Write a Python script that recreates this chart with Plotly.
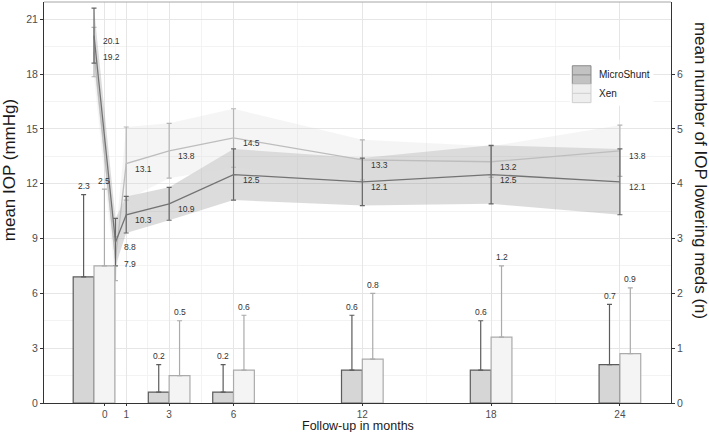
import plotly.graph_objects as go

# ---------------- data ----------------
iop_months = [-0.5, 0.5, 1, 3, 6, 12, 18, 24]
ms_iop = [20.1, 8.8, 10.3, 10.9, 12.5, 12.1, 12.5, 12.1]
ms_iop_sd = [1.5, 1.3, 1.0, 0.9, 1.4, 1.3, 1.6, 1.8]
xen_iop = [19.2, 7.9, 13.1, 13.8, 14.5, 13.3, 13.2, 13.8]
xen_iop_sd = [1.35, 1.2, 2.0, 1.5, 1.6, 1.1, 0.85, 1.4]

med_months = [-0.5, 3, 6, 12, 18, 24]
ms_meds = [2.3, 0.2, 0.2, 0.6, 0.6, 0.7]
ms_meds_sd = [1.5, 0.5, 0.5, 1.0, 0.9, 1.1]
xen_meds = [2.5, 0.5, 0.6, 0.8, 1.2, 0.9]
xen_meds_sd = [1.4, 1.0, 1.0, 1.2, 1.3, 1.2]

x_ticks = [0, 1, 3, 6, 12, 18, 24]
x_minor = [0.5, 2, 4.5, 9, 15, 21]
y_ticks = [0, 3, 6, 9, 12, 15, 18, 21]
y2_ticks = [0, 1, 2, 3, 4, 5, 6]
series_names = ["MicroShunt", "Xen"]

# ---------------- style ----------------
FONT = "Liberation Sans, Arial, sans-serif"
Y_MAX = 21.94
MED_FACTOR = 3.0
BAR_W = 0.97
X_RANGE = [-2.83, 26.38]

ms_fill, ms_edge = "#d6d6d6", "#5c5c5c"
xen_fill, xen_edge = "#f4f4f4", "#ababab"
ms_line, xen_line = "#737373", "#bdbdbd"

fig = go.Figure()

# bars (meds) on secondary axis
for vals, sds, off, fill, edge in [
    (ms_meds, ms_meds_sd, -BAR_W / 2, ms_fill, ms_edge),
    (xen_meds, xen_meds_sd, BAR_W / 2, xen_fill, xen_edge),
]:
    fig.add_trace(go.Bar(
        x=[m + off for m in med_months], y=vals, width=BAR_W,
        marker=dict(color=fill, line=dict(color=edge, width=1.2)),
        error_y=dict(type="data", symmetric=False, array=sds,
                     arrayminus=[0] * len(sds), color=edge, thickness=1.2, width=2.5),
        yaxis="y2", showlegend=False, hoverinfo="skip",
    ))

# ribbons (mean +- SD)
for vals, sds, fill in [
    (ms_iop, ms_iop_sd, "rgba(125,125,125,0.27)"),
    (xen_iop, xen_iop_sd, "rgba(215,215,215,0.26)"),
]:
    up = [v + s for v, s in zip(vals, sds)]
    lo = [v - s for v, s in zip(vals, sds)]
    fig.add_trace(go.Scatter(
        x=iop_months + iop_months[::-1], y=up + lo[::-1],
        fill="toself", fillcolor=fill, line=dict(width=0),
        mode="lines", showlegend=False, hoverinfo="skip",
    ))

# lines with error bars
for vals, sds, col, ecol in [
    (xen_iop, xen_iop_sd, xen_line, "#b5b5b5"),
    (ms_iop, ms_iop_sd, ms_line, "#666666"),
]:
    fig.add_trace(go.Scatter(
        x=iop_months, y=vals, mode="lines",
        line=dict(color=col, width=1.3),
        error_y=dict(type="data", array=sds, color=ecol, thickness=1.2, width=2.5),
        showlegend=False, hoverinfo="skip",
    ))

ann = []
# IOP labels
for vals in (ms_iop, xen_iop):
    for m, v in zip(iop_months, vals):
        ann.append(dict(x=m, y=v, xref="x", yref="y", text=f"{v:.1f}",
                        showarrow=False, xanchor="left", yanchor="middle",
                        xshift=7, yshift=-5, font=dict(size=8.5, color="#333333", family=FONT)))
# meds labels
for vals, sds, off in [(ms_meds, ms_meds_sd, -BAR_W / 2), (xen_meds, xen_meds_sd, BAR_W / 2)]:
    for m, v, s in zip(med_months, vals, sds):
        ann.append(dict(x=m + off, y=v + s, xref="x", yref="y2", text=f"{v:.1f}",
                        showarrow=False, xanchor="center", yanchor="middle",
                        yshift=8.5, font=dict(size=8.5, color="#333333", family=FONT)))

# axis titles
ann.append(dict(x=0.5, y=-0.058, xref="paper", yref="paper", text="Follow-up in months",
                showarrow=False, xanchor="center", yanchor="middle",
                font=dict(size=12.5, color="#1a1a1a", family=FONT)))
ann.append(dict(x=-0.0555, y=0.581, xref="paper", yref="paper", text="mean IOP (mmHg)",
                showarrow=False, textangle=-90, xanchor="center", yanchor="middle",
                font=dict(size=17, color="#1a1a1a", family=FONT)))
ann.append(dict(x=1.048, y=0.581, xref="paper", yref="paper",
                text="mean number of IOP lowering meds (n)",
                showarrow=False, textangle=90, xanchor="center", yanchor="middle",
                font=dict(size=17, color="#1a1a1a", family=FONT)))

# legend (manual)
shapes = []
shapes.append(dict(type="rect", xref="paper", yref="paper", x0=0.839, x1=0.972, y0=0.741, y1=0.856,
                   fillcolor="white", line=dict(width=0), layer="above"))
keys = [(0.841, 0.7955, "#c2c2c2", "#8a8a8a"), (0.7955, 0.749, "#eeeeee", "#cfcfcf")]
for (yt, yb, fc, lc), name in zip(keys, series_names):
    shapes.append(dict(type="rect", xref="paper", yref="paper", x0=0.8426, x1=0.8724, y0=yb, y1=yt,
                       fillcolor=fc, line=dict(color=lc, width=1), layer="above"))
    shapes.append(dict(type="line", xref="paper", yref="paper", x0=0.8426, x1=0.8724,
                       y0=(yt + yb) / 2, y1=(yt + yb) / 2, line=dict(color=lc, width=1), layer="above"))
    ann.append(dict(x=0.8815, y=(yt + yb) / 2, xref="paper", yref="paper", text=name,
                    showarrow=False, xanchor="left", yanchor="middle",
                    font=dict(size=10, color="#1a1a1a", family=FONT)))
# top panel border
shapes.append(dict(type="line", xref="paper", yref="paper", x0=0, x1=1, y0=1, y1=1,
                   line=dict(color="#a6a6a6", width=1)))

fig.update_layout(
    width=709, height=432,
    margin=dict(l=44, r=38, t=2, b=29),
    paper_bgcolor="white", plot_bgcolor="white",
    barmode="overlay", showlegend=False,
    font=dict(family=FONT, size=10.5, color="#4d4d4d"),
    annotations=ann, shapes=shapes,
    xaxis=dict(range=X_RANGE, tickmode="array", tickvals=x_ticks,
               ticktext=[str(t) for t in x_ticks],
               showgrid=True, gridcolor="#e6e6e6", gridwidth=1,
               minor=dict(tickmode="array", tickvals=x_minor, showgrid=True,
                          gridcolor="#f3f3f3", gridwidth=1),
               showline=True, linecolor="#333333", linewidth=1,
               ticks="outside", ticklen=2, tickcolor="#333333",
               zeroline=False, tickfont=dict(size=10, color="#4d4d4d")),
    yaxis=dict(range=[0, Y_MAX], tickmode="array", tickvals=y_ticks,
               showgrid=True, gridcolor="#e6e6e6", gridwidth=1,
               minor=dict(dtick=1.5, tick0=0, showgrid=True, gridcolor="#f3f3f3", gridwidth=1),
               showline=True, linecolor="#333333", linewidth=1,
               ticks="outside", ticklen=3, tickcolor="#333333",
               zeroline=False, tickfont=dict(size=10.5, color="#4d4d4d")),
    yaxis2=dict(range=[0, Y_MAX / MED_FACTOR], overlaying="y", side="right",
                tickmode="array", tickvals=y2_ticks, showgrid=False,
                showline=True, linecolor="#333333", linewidth=1,
                ticks="outside", ticklen=3, tickcolor="#333333",
                zeroline=False, tickfont=dict(size=10.5, color="#4d4d4d")),
)

fig.write_html("out.html", config={"displayModeBar": False},
               post_script="document.body.style.margin='0';document.body.style.padding='0';")
